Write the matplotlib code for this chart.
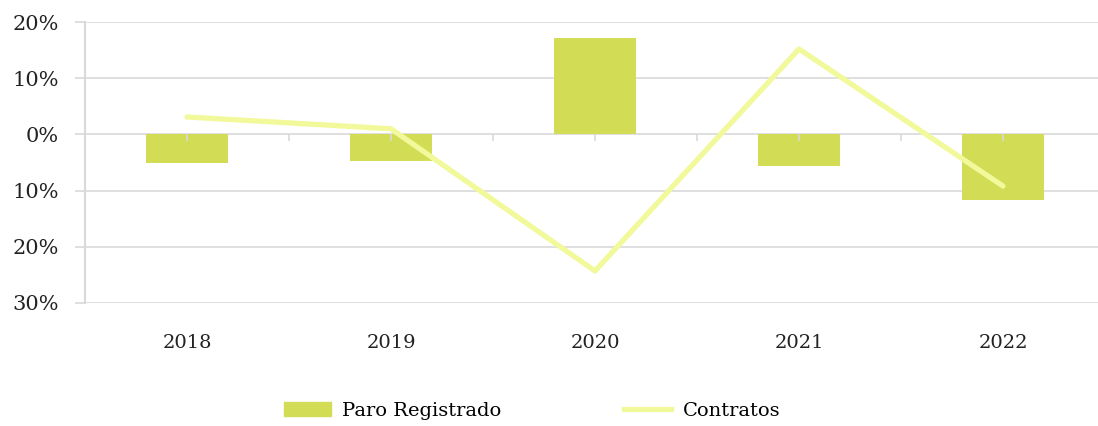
import numpy as np
import matplotlib
matplotlib.use("Agg")
import matplotlib.pyplot as plt
from matplotlib.lines import Line2D
from matplotlib.patches import Patch

# data
years = ["2018", "2019", "2020", "2021", "2022"]
paro = [-5.1, -4.8, 17.2, -5.6, -11.7]
contratos = [3.1, 1.0, -24.3, 15.2, -9.2]
yticks = [-30, -20, -10, 0, 10, 20]
ytick_labels = ["30%", "20%", "10%", "0%", "10%", "20%"]

bar_col = "#D2DC55"
line_col = "#F1F99B"
grid_col = "#D9D9D9"

plt.rcParams["font.family"] = ["DejaVu Serif"]

fig = plt.figure(figsize=(10.98, 4.26), dpi=100)
W, H = 1098, 426
ax = fig.add_axes([85 / W, (H - 303) / H, 1020 / W, 281 / H])

x = np.arange(len(years))
ax.bar(x, paro, width=0.4, color=bar_col, zorder=2)
ax.plot(x, contratos, color=line_col, lw=3.8, solid_capstyle="round", zorder=3)

ax.set_xlim(-0.5, 4.5)
ax.set_ylim(-30, 20)
ax.set_yticks(yticks)
ax.set_yticklabels(ytick_labels, fontsize=15, color="#222222")
ax.tick_params(axis="y", length=7, width=1.2, color=grid_col, pad=12)
ax.yaxis.grid(True, color=grid_col, lw=1.2, zorder=0)

ax.set_xticks(x)
ax.set_xticklabels(years, fontsize=14, color="#222222")
ax.tick_params(axis="x", length=0, pad=22)

for s in ["top", "right", "bottom"]:
    ax.spines[s].set_visible(False)
ax.spines["left"].set_color(grid_col)
ax.spines["left"].set_linewidth(1.5)

# small ticks hanging below the zero line
zero_frac = (0 - yticks[0]) / (yticks[-1] - yticks[0])
sec = ax.secondary_xaxis(zero_frac)
sec.set_xticks(np.arange(-0.5, 4.6, 0.5))
sec.set_xticklabels([])
sec.tick_params(length=5, width=1.2, color=grid_col, direction="in")
for s in sec.spines.values():
    s.set_visible(False)
sec.set_zorder(2.5)

handles = [Patch(color=bar_col), Line2D([0], [0], color=line_col, lw=3.8)]
fig.legend(handles, ["Paro Registrado", "Contratos"], loc="center",
           bbox_to_anchor=(532 / W, 15 / H), ncol=2, frameon=False,
           fontsize=14, handlelength=2.4, handleheight=0.7, handletextpad=0.6,
           columnspacing=6.3)

fig.savefig("out.png", dpi=100)
